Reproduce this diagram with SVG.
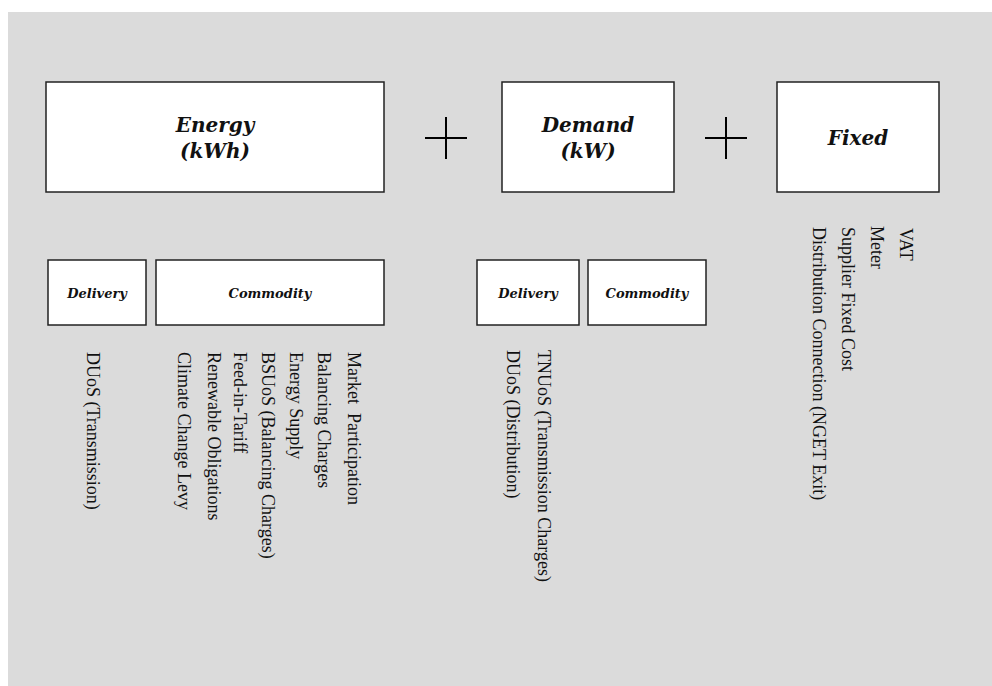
<svg xmlns="http://www.w3.org/2000/svg" width="992" height="686" viewBox="0 0 992 686">
<style>
.box{fill:#fff;stroke:#222;stroke-width:1.5}
.t{font-family:"DejaVu Serif","Liberation Serif",serif;font-weight:bold;font-style:italic;fill:#111;text-anchor:middle}
.big{font-size:20px}
.small{font-size:13px}
.v{font-family:"Liberation Serif","Times New Roman",serif;font-size:18px;fill:#111}
.plus{stroke:#000;stroke-width:2;fill:none}
</style>
<rect x="0" y="0" width="992" height="686" fill="#fff"/>
<rect x="8" y="12" width="984" height="674" fill="#dbdbdb"/>
<g id="energy"><rect class="box" x="46" y="82" width="338" height="110"/><text class="t big" x="215" y="132">Energy</text><text class="t big" x="215" y="158">(kWh)</text></g>
<g id="demand"><rect class="box" x="502" y="82" width="172" height="110"/><text class="t big" x="588" y="132">Demand</text><text class="t big" x="588" y="158">(kW)</text></g>
<g id="fixed"><rect class="box" x="777" y="82" width="162" height="110"/><text class="t big" x="858" y="145">Fixed</text></g>
<g id="plus1"><path class="plus" d="M425 138H467M446 117V159"/></g>
<g id="plus2"><path class="plus" d="M705 138H747M726 117V159"/></g>
<g id="energy-delivery"><rect class="box" x="48" y="260" width="98" height="65"/><text class="t small" x="97" y="298">Delivery</text></g>
<g id="energy-commodity"><rect class="box" x="156" y="260" width="228" height="65"/><text class="t small" x="270" y="298">Commodity</text></g>
<g id="demand-delivery"><rect class="box" x="477" y="260" width="102" height="65"/><text class="t small" x="528" y="298">Delivery</text></g>
<g id="demand-commodity"><rect class="box" x="588" y="260" width="118" height="65"/><text class="t small" x="647" y="298">Commodity</text></g>
<g id="connectors"></g>
<g id="energy-delivery-items">
<text class="v" transform="translate(87,352) rotate(90)">DUoS (Transmission)</text>
</g>
<g id="energy-commodity-items">
<text class="v" xml:space="preserve" transform="translate(348,352) rotate(90)">Market  Participation</text>
<text class="v" transform="translate(318,352) rotate(90)">Balancing Charges</text>
<text class="v" transform="translate(290,352) rotate(90)">Energy Supply</text>
<text class="v" transform="translate(262,352) rotate(90)">BSUoS (Balancing Charges)</text>
<text class="v" transform="translate(234,352) rotate(90)">Feed-in-Tariff</text>
<text class="v" transform="translate(208,352) rotate(90)">Renewable Obligations</text>
<text class="v" transform="translate(178,352) rotate(90)">Climate Change Levy</text>
</g>
<g id="demand-items">
<text class="v" transform="translate(538,350) rotate(90)">TNUoS (Transmission Charges)</text>
<text class="v" transform="translate(507,350) rotate(90)">DUoS (Distribution)</text>
</g>
<g id="fixed-items">
<text class="v" transform="translate(900,228) rotate(90)">VAT</text>
<text class="v" transform="translate(871,226) rotate(90)">Meter</text>
<text class="v" transform="translate(842,227) rotate(90)">Supplier Fixed Cost</text>
<text class="v" transform="translate(813,227) rotate(90)">Distribution Connection (NGET Exit)</text>
</g>
</svg>
